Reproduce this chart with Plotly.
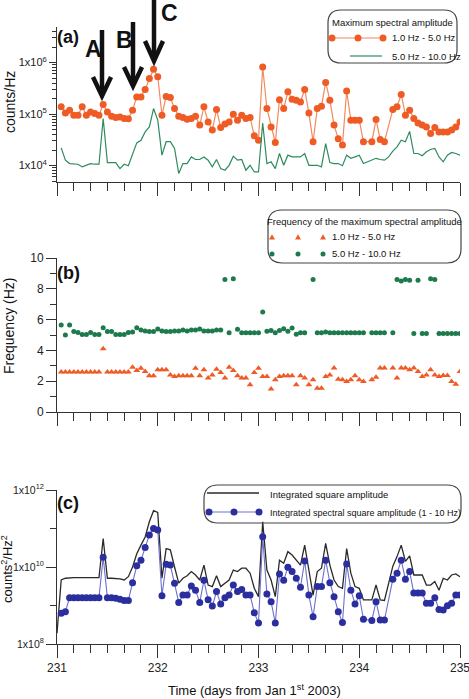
import plotly.graph_objects as go

# ---------------- data (hourly samples, hours after day 231) ----------------
hours = list(range(1, 97))
hours_total = list(range(0, 97))

amp_1_5hz = [1.38e5, 1.05e5, 1.19e5, 9.5e4, 9.5e4, 1.38e5, 9.5e4, 1.10e5, 1.02e5, 9.5e4,
             1.53e5, 1.10e5, 9.1e4, 8.6e4, 8.8e4, 8.2e4, 8.1e4, 1.19e5, 2.15e5, 2.15e5,
             3.0e5, 4.9e5, 7.4e5, 5.3e5, 9.5e4, 2.2e5, 2.1e5, 1.28e5, 9.1e4, 8.6e4,
             7.9e4, 8.2e4, 9.1e4, 6.1e4, 1.38e5, 7.0e4, 4.9e4, 1.22e5, 5.5e4, 6.4e4,
             7.0e4, 9.9e4, 7.6e4, 9.5e4, 8.2e4, 8.6e4, 3.8e4, 3.1e4, 8.2e5, 1.28e5,
             5.6e4, 2.8e4, 1.9e5, 1.28e5, 2.7e5, 1.94e5, 1.86e5, 1.72e5, 3.0e5, 1.05e5,
             2.9e4, 1.28e5, 1.42e5, 4.1e5, 1.86e5, 6.1e4, 3.3e4, 2.5e4, 2.8e5, 7.6e4,
             7.6e4, 7.6e4, 2.9e4, None, 2.9e4, 7.8e4, 3.2e4, 2.9e4, None, 1.22e5,
             1.38e5, 2.4e5, 9.5e4, 1.19e5, 8.2e4, 6.7e4, 6.1e4, 5.6e4, 4.2e4, 5.5e4,
             4.5e4, 4.5e4, 4.5e4, 4.9e4, 5.6e4, 7.0e4]

amp_5_10hz = [2.2e4, 1.27e4, 1.09e4, 1.06e4, 1.06e4, 9.4e3, 1.01e4, 1.09e4, 1.06e4, 1.06e4,
              8.2e4, 1.14e4, 1.14e4, 1.14e4, 8.7e3, 1.06e4, 9.9e3, 1.71e4, 2.75e4, 3.1e4,
              4.5e4, 5.6e4, 1.28e5, 7.6e4, 1.59e4, 2.9e4, 2.9e4, 2.14e4, 7.0e3, 1.09e4,
              1.09e4, 1.47e4, 1.31e4, 1.31e4, 1.47e4, 1.27e4, 9.4e3, 1.31e4, 8.7e3, 8.1e3,
              1.01e4, 1.52e4, 1.27e4, 1.31e4, 8.1e3, 1.01e4, 7.5e3, 7.5e3, 6.7e4, 1.09e4,
              1.18e4, 8.7e3, 1.71e4, 1.01e4, 1.59e4, 1.47e4, 1.47e4, 1.47e4, 1.71e4, 1.01e4,
              1.01e4, 1.01e4, 9.4e3, 2.67e4, 1.14e4, 1.09e4, 1.09e4, 9.9e3, 1.59e4, 1.38e4,
              1.47e4, 1.59e4, 1.09e4, 1.18e4, 1.27e4, 1.38e4, 1.31e4, 1.27e4, 1.47e4, 1.9e4,
              2.3e4, 3.1e4, 2.9e4, 4.6e4, 1.71e4, 1.71e4, 1.55e4, 1.85e4, 2.05e4, 2.14e4,
              1.47e4, 1.18e4, 1.59e4, 1.79e4, 1.71e4, 1.59e4]

freq_1_5hz = [2.6, 2.6, 2.6, 2.6, 2.6, 2.6, 2.6, 2.6, 2.6, 2.6,
              4.1, 2.6, 2.6, 2.6, 2.6, 2.6, 2.6, 2.91, 2.69, 2.84,
              2.63, 2.35, 2.35, 2.74, 2.74, 2.74, 2.41, 2.3, 2.35, 2.35,
              2.35, 2.35, 2.84, 2.35, 2.74, 2.2, 2.41, 2.78, 2.56, 2.2,
              2.91, 2.69, 2.35, 2.2, 2.2, 1.77, 2.56, 2.84, 2.3, 2.3,
              1.49, 2.09, 2.3, 2.35, 2.35, 2.35, 1.77, 2.35, 2.2, 1.77,
              2.09, 1.55, 1.55, 2.3, 2.41, 2.85, 2.13, 2.09, 1.98, 2.09,
              2.35, 2.09, 1.98, None, 2.09, 2.26, 2.85, 2.85, None, 2.85,
              2.2, 2.85, 2.85, 2.74, 2.85, 2.63, 2.3, 2.41, 2.74, 2.41,
              2.3, 2.37, 2.37, 1.98, 1.81, 2.63]

freq_5_10hz = [5.65, 5.0, 5.65, 5.22, 5.17, 5.04, 5.04, 5.17, 5.04, 5.04,
               5.47, 5.22, 5.22, 5.04, 5.04, 5.04, 5.17, 5.2, 5.47, 5.32,
               5.26, 5.22, 5.22, 5.39, 5.26, 5.22, 5.22, 5.26, 5.26, 5.32,
               5.26, 5.32, 5.32, 5.39, 5.26, 5.26, 5.26, 5.32, 5.32, 8.6,
               5.15, 8.66, 5.37, 5.15, 5.15, 5.15, 5.15, 5.15, 6.5, 5.25,
               5.3, 5.15, 5.3, 5.4, 5.25, 5.45, 5.05, 5.15, 5.15, None,
               8.6, 5.15, 5.15, 5.2, 5.15, 5.15, 5.15, 5.15, 5.15, 5.15,
               5.15, 5.15, 5.15, None, 5.15, 5.15, 5.15, 5.15, None, 5.15,
               8.6, 8.5, 8.6, 8.55, 5.1, 8.55, 5.1, 5.1, 8.65, 8.6,
               5.1, 5.1, 5.1, 5.1, 5.1, 5.1]

integrated_sq = [1.9e8, 4.6e9, 5.1e9, 5.3e9, 5.3e9, 5.3e9, 5.2e9, 5.3e9, 5.3e9, 5.3e9, 5.3e9,
                 5.5e10, 5.1e9, 5.1e9, 5.1e9, 4.9e9, 4.6e9, 5.6e9, 1.0e10, 2.2e10, 3.7e10,
                 6.0e10, 1.5e11, 2.9e11, 2.6e11, 5.1e9, 3.0e10, 2.8e10, 1.0e10, 3.8e9, 5.1e9,
                 5.9e9, 7.6e9, 6.2e9, 4.6e9, 1.12e10, 3.4e9, 3.1e9, 5.9e9, 3.1e9, 3.8e9,
                 4.6e9, 8.3e9, 7.6e9, 9.3e9, 9.3e9, 6.9e9, 2.8e9, 1.7e9, 1.5e11, 8.3e9,
                 4.6e9, 1.7e9, 1.5e10, 1.25e10, 2.5e10, 2.05e10, 1.5e10, 1.12e10, 3.7e10, 8.3e9,
                 1.86e9, 7.6e9, 9.3e9, 4.1e10, 1.12e10, 4.6e9, 3.1e9, 2.8e9, 3.0e10, 6.9e9,
                 3.1e9, 2.8e9, 1.4e9, None, 1.4e9, 3.4e9, 1.4e9, 1.35e9, None, 1.05e10,
                 1.86e10, 3.7e10, 1.4e10, 1.95e10, 6.2e9, 6.2e9, 6.2e9, 3.4e9, 3.4e9, 4.2e9,
                 2.5e9, 5.1e9, 4.6e9, 6.2e9, 6.6e9, 5.6e9]

integrated_spec_sq = [6.3e8, 6.9e8, 1.6e9, 1.6e9, 1.6e9, 1.6e9, 1.6e9, 1.6e9, 1.6e9, 1.6e9,
                      1.8e10, 1.6e9, 1.6e9, 1.55e9, 1.45e9, 1.35e9, 1.35e9, 3.9e9, 1.07e10, 1.5e10,
                      3.2e10, 6.8e10, 1.0e11, 9.1e10, 1.8e9, 1.17e10, 1.12e10, 3.8e9, 1.2e9, 1.86e9,
                      1.86e9, 3.2e9, 2.5e9, 1.2e9, 4.5e9, 1.4e9, 9.7e8, 2.3e9, 1.1e9, 1.6e9,
                      1.86e9, 3.4e9, 2.3e9, 2.6e9, 1.86e9, 1.86e9, 6.5e8, 3.5e8, 6.1e10, 2.0e9,
                      1.26e9, 3.5e8, 6.6e9, 4.5e9, 9.8e9, 7.6e9, 5.1e9, 3.0e9, 1.44e10, 1.86e9,
                      5.1e8, 3.1e9, 3.1e9, 1.5e10, 3.9e9, 1.7e9, 6.9e8, 3.6e8, 1.2e10, 2.5e9,
                      1.1e9, 1.8e9, 4.4e8, None, 4.1e8, 1.26e9, 4.2e8, 4.2e8, None, 4.8e9,
                      6.9e9, 1.5e10, 4.8e9, 7.6e9, 2.1e9, 2.1e9, 2.1e9, 1.15e9, 1.15e9, 1.6e9,
                      7.9e8, 7.6e8, 9.8e8, 1.15e9, 1.86e9, 1.86e9]

x_tick_vals = [231, 232, 233, 234, 235]
x_tick_labels = ["231", "232", "233", "234", "235"]
amp_tick_vals = [1e4, 1e5, 1e6]
amp_tick_text = ["1x10<sup>4</sup>", "1x10<sup>5</sup>", "1x10<sup>6</sup>"]
sq_tick_vals = [1e8, 1e10, 1e12]
sq_tick_text = ["1x10<sup>8</sup>", "1x10<sup>10</sup>", "1x10<sup>12</sup>"]

time_days = [231 + h / 24 for h in hours]
time_days_total = [231 + h / 24 for h in hours_total]

# ---------------- styling ----------------
W, H = 469, 699
FONT = "Liberation Sans, Arial, sans-serif"
ORANGE = "#EF5B25"
ORANGE_LINE = "#F28A60"
GREEN_LINE = "#2E8B5E"
GREEN_DOT = "#1D7A4C"
BLUE_DOT = "#2B2E9E"
BLUE_LINE = "#6C70CC"
BLACK_LINE = "#2A2A2A"
AXC = "#333333"


def X(p):
    return p / W


def Y(p):
    return 1 - p / H


fig = go.Figure()

fig.add_trace(go.Scatter(x=time_days, y=amp_1_5hz, mode="lines+markers", connectgaps=True,
                         line=dict(color=ORANGE_LINE, width=1.2),
                         marker=dict(color=ORANGE, size=7), xaxis="x", yaxis="y"))
fig.add_trace(go.Scatter(x=time_days, y=amp_5_10hz, mode="lines", connectgaps=True,
                         line=dict(color=GREEN_LINE, width=1.2), xaxis="x", yaxis="y"))
fig.add_trace(go.Scatter(x=time_days, y=freq_1_5hz, mode="markers",
                         marker=dict(color=ORANGE, size=6, symbol="triangle-up"),
                         xaxis="x2", yaxis="y2"))
fig.add_trace(go.Scatter(x=time_days, y=freq_5_10hz, mode="markers",
                         marker=dict(color=GREEN_DOT, size=5), xaxis="x2", yaxis="y2"))
fig.add_trace(go.Scatter(x=time_days_total, y=integrated_sq, mode="lines", connectgaps=True,
                         line=dict(color=BLACK_LINE, width=1.3), xaxis="x3", yaxis="y3"))
fig.add_trace(go.Scatter(x=time_days, y=integrated_spec_sq, mode="lines+markers", connectgaps=True,
                         line=dict(color=BLUE_LINE, width=1.1),
                         marker=dict(color=BLUE_DOT, size=7), xaxis="x3", yaxis="y3"))

xdom = [X(57), X(460)]
common_x = dict(range=[231, 235], domain=xdom, showline=True, linecolor=AXC, linewidth=1,
                ticks="outside", ticklen=13, tickwidth=1, tickcolor=AXC,
                tickmode="array", tickvals=x_tick_vals, ticktext=x_tick_labels,
                minor=dict(tick0=231, dtick=1 / 6, ticks="outside", ticklen=8, tickcolor=AXC, tickwidth=1),
                showgrid=False, zeroline=False, automargin=False, ticklabeloverflow="allow",
                tickfont=dict(family=FONT, size=12, color="#222"))
common_y = dict(showline=True, linecolor=AXC, linewidth=1, ticks="outside", tickcolor=AXC,
                tickwidth=1, showgrid=False, zeroline=False, automargin=False,
                ticklabeloverflow="allow",
                tickfont=dict(family=FONT, size=11, color="#222"))

minor_a = [k * 10 ** d for d in range(3, 7) for k in range(2, 10)]

fig.update_layout(
    width=W, height=H, margin=dict(l=0, r=0, t=0, b=0),
    paper_bgcolor="white", plot_bgcolor="white", showlegend=False,
    font=dict(family=FONT, color="#222"),
    xaxis=dict(common_x, anchor="y", showticklabels=False),
    xaxis2=dict(common_x, anchor="y2", showticklabels=False),
    xaxis3=dict(common_x, anchor="y3", showticklabels=True),
    yaxis=dict(common_y, type="log", range=[3.68, 6.69], domain=[Y(182), Y(27)], anchor="x",
               tickmode="array", tickvals=amp_tick_vals, ticktext=amp_tick_text, ticklen=7,
               minor=dict(tickmode="array", tickvals=minor_a, ticks="outside", ticklen=4,
                          tickcolor=AXC)),
    yaxis2=dict(common_y, range=[0, 10], domain=[Y(412), Y(258)], anchor="x2",
                tickmode="linear", tick0=0, dtick=2, ticklen=10,
                tickfont=dict(family=FONT, size=12, color="#222"),
                minor=dict(tick0=0, dtick=1, ticks="outside", ticklen=6, tickcolor=AXC)),
    yaxis3=dict(common_y, type="log", range=[8, 12], domain=[Y(644), Y(490)], anchor="x3",
                tickmode="array", tickvals=sq_tick_vals, ticktext=sq_tick_text, ticklen=10,
                tickfont=dict(family=FONT, size=10.5, color="#222"),
                minor=dict(tickmode="array", tickvals=[1e9, 1e11], ticks="outside", ticklen=6,
                           tickcolor=AXC)),
)

shapes = []
annotations = []


def ann(text, x, y, size, xanchor="center", bold=False, angle=0, yanchor="middle"):
    annotations.append(dict(text=("<b>%s</b>" % text) if bold else text, x=X(x), y=Y(y),
                            xref="paper", yref="paper", showarrow=False, xanchor=xanchor,
                            yanchor=yanchor, textangle=angle,
                            font=dict(family=FONT, size=size, color="#111")))


def rounded_box(x0, y0, x1, y1, r):
    p = ("M {a},{b} L {c},{b} Q {d},{b} {d},{e} L {d},{f} Q {d},{g} {c},{g} "
         "L {a},{g} Q {h},{g} {h},{f} L {h},{e} Q {h},{b} {a},{b} Z").format(
        a=X(x0 + r), b=Y(y0), c=X(x1 - r), d=X(x1), e=Y(y0 + r), f=Y(y1 - r), g=Y(y1), h=X(x0))
    shapes.append(dict(type="path", path=p, xref="paper", yref="paper",
                       line=dict(color="#444", width=1.2), fillcolor="rgba(0,0,0,0)"))


def seg(x0, y0, x1, y1, color, width):
    shapes.append(dict(type="line", x0=X(x0), y0=Y(y0), x1=X(x1), y1=Y(y1), xref="paper",
                       yref="paper", line=dict(color=color, width=width)))


def dot(x, y, r, color):
    shapes.append(dict(type="circle", xref="paper", yref="paper", xsizemode="pixel",
                       ysizemode="pixel", xanchor=X(x), yanchor=Y(y), x0=-r, x1=r, y0=-r, y1=r,
                       fillcolor=color, line=dict(color=color, width=0)))


def tri(x, y, s, color):
    p = "M {},{} L {},{} L {},{} Z".format(-s, -s * 0.8, s, -s * 0.8, 0, s * 0.9)
    shapes.append(dict(type="path", xref="paper", yref="paper", xsizemode="pixel",
                       ysizemode="pixel", xanchor=X(x), yanchor=Y(y), path=p,
                       fillcolor=color, line=dict(color=color, width=0)))


def arrow(xc, ytop, ytip, half, head):
    seg(xc, ytop, xc, ytip - 2, "#111", 4.5)
    p = "M {},{} L {},{} L {},{}".format(X(xc - half), Y(ytip - head), X(xc), Y(ytip),
                                          X(xc + half), Y(ytip - head))
    shapes.append(dict(type="path", path=p, xref="paper", yref="paper",
                       line=dict(color="#111", width=4.5)))


# panel labels
ann("(a)", 68, 37, 18, bold=True)
ann("(b)", 68, 273, 18, bold=True)
ann("(c)", 68, 503, 18, bold=True)

# arrows A, B, C
arrow(102, 30, 96, 9, 19)
arrow(133, 22, 86, 9, 19)
arrow(154, -2, 61, 9, 20)
ann("A", 93, 49, 23, bold=True)
ann("B", 124, 40, 23, bold=True)
ann("C", 169, 13, 23, bold=True)

# axis titles
ann("counts/Hz", 10, 102, 14, angle=-90)
ann("Frequency (Hz)", 9, 326, 14, angle=-90)
ann("counts<sup>2</sup>/Hz<sup>2</sup>", 7, 569, 13, angle=-90)
ann("Time (days from Jan 1<sup>st</sup> 2003)", 254, 690, 13)

# legend (a)
LF = 9.5
rounded_box(328, 10, 457, 63, 13)
ann("Maximum spectral amplitude", 392, 23, LF)
seg(332, 38, 383, 38, ORANGE_LINE, 1.2)
for xx in (332, 358, 383):
    dot(xx, 38, 3.5, ORANGE)
ann("1.0 Hz - 5.0 Hz", 390, 38, LF, xanchor="left")
seg(350, 56, 382, 56, GREEN_LINE, 1.2)
ann("5.0 Hz - 10.0 Hz", 390, 57, LF, xanchor="left")

# legend (b)
rounded_box(268, 210, 461, 263, 14)
ann("Frequency of the maximum spectral amplitude", 364, 222, LF)
for xx in (272, 298, 323):
    tri(xx, 237, 3, ORANGE)
    dot(xx, 254, 2.5, GREEN_DOT)
ann("1.0 Hz - 5.0 Hz", 330, 237, LF, xanchor="left")
ann("5.0 Hz - 10.0 Hz", 330, 254, LF, xanchor="left")

# legend (c)
rounded_box(204, 485, 461, 523, 14)
seg(207, 493, 259, 493, BLACK_LINE, 1.3)
ann("Integrated square amplitude", 268, 494, LF, xanchor="left")
seg(209, 512, 259, 512, BLUE_LINE, 1.1)
for xx in (209, 234, 259):
    dot(xx, 512, 3.5, BLUE_DOT)
ann("Integrated spectral square amplitude (1 - 10 Hz)", 268, 513, 9, xanchor="left")

fig.update_layout(shapes=shapes, annotations=annotations)

fig.write_html("out.html")
